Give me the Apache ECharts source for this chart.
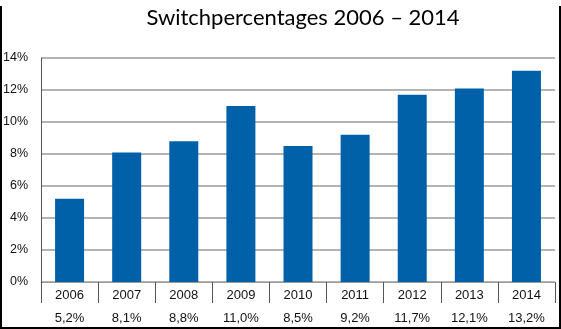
<!DOCTYPE html>
<html>
<head>
<meta charset="utf-8">
<script src="https://cdn.jsdelivr.net/npm/echarts@6/dist/echarts.min.js"></script>
<style>
  html, body { margin: 0; padding: 0; background: #fff; }
  #frame { position: relative; width: 561px; height: 329px; box-sizing: border-box; }
  #chart { width: 561px; height: 329px; }
  .edge { position: absolute; background: #000; }
</style>
</head>
<body>
<div id="frame">
  <div id="chart"></div>
  <div class="edge" style="left:0;top:6px;width:2px;height:323px"></div>
  <div class="edge" style="right:0;top:6px;width:2px;height:323px"></div>
  <div class="edge" style="left:0;bottom:0;width:561px;height:2px"></div>
</div>
<script>
// Switch rate per year, in percent
const years = ['2006', '2007', '2008', '2009', '2010', '2011', '2012', '2013', '2014'];
const switchRates = [5.2, 8.1, 8.8, 11.0, 8.5, 9.2, 11.7, 12.1, 13.2];
const yTicks = [0, 2, 4, 6, 8, 10, 12, 14];

const fmtPct = v => v.toFixed(1).replace('.', ',') + '%';

const chart = echarts.init(document.getElementById('chart'), null, { renderer: 'canvas' });
chart.setOption({
  animation: false,
  title: {
    text: 'Switchpercentages 2006 \u2013 2014',
    left: 298,
    textAlign: 'center',
    top: 2,
    textStyle: { fontFamily: 'Lato', fontSize: 22, fontWeight: 'normal', color: '#000' }
  },
  grid: { left: 40, right: 6, top: 58, bottom: 47 },
  xAxis: [{
    type: 'category',
    data: years,
    axisLine: { show: true, lineStyle: { color: '#9a9a9a', width: 1 } },
    axisTick: { show: true, length: 21, interval: 0, lineStyle: { color: '#555', width: 1 } },
    axisLabel: {
      interval: 0,
      margin: 2,
      formatter: (val, idx) => '{y|' + val + '}\n{v|' + fmtPct(switchRates[idx]) + '}',
      rich: {
        y: { fontFamily: 'Liberation Sans', fontSize: 13, color: '#111', lineHeight: 23 },
        v: { fontFamily: 'Liberation Sans', fontSize: 13, color: '#111', lineHeight: 23 }
      }
    }
  }],
  yAxis: {
    type: 'value',
    min: yTicks[0],
    max: yTicks[yTicks.length - 1],
    interval: 2,
    axisLine: { show: true, lineStyle: { color: '#555', width: 1 } },
    axisTick: { show: false },
    axisLabel: {
      margin: 13,
      formatter: v => v + '%',
      fontFamily: 'Liberation Sans', fontSize: 12.5, color: '#111'
    },
    splitLine: { lineStyle: { color: '#b4b4b4', width: 2 } }
  },
  series: [{
    type: 'bar',
    data: switchRates,
    barWidth: 29,
    itemStyle: { color: '#0060a8' }
  }]
});
</script>
</body>
</html>
